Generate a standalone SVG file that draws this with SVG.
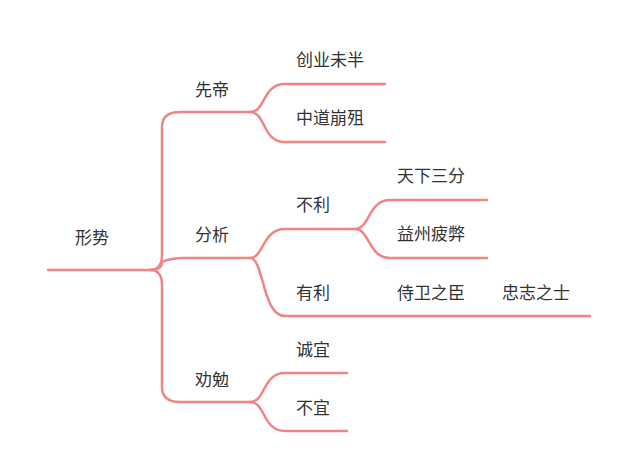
<svg xmlns="http://www.w3.org/2000/svg" width="640" height="468" viewBox="0 0 640 468">
<style>
.l{fill:none;stroke:#ef8585;stroke-width:2.5;stroke-linecap:round}
text{font-family:"Noto Sans CJK SC",sans-serif;fill:#333;font-size:17px}
</style>
<rect width="640" height="468" fill="#fff"/>
<g id="connectors">
<path class="l" d="M48 270 H150"/>
<path class="l" d="M150 270 Q162 270 162 255 V127 Q162 112 180 112 H250"/>
<path class="l" d="M150 270 Q162 270 162 262 Q170 258 185 258 H250"/>
<path class="l" d="M150 270 Q162 270 162 285 V387 Q162 402 180 402 H250"/>
<path class="l" d="M250 112 C266 112 262 84 285 84 H385"/>
<path class="l" d="M250 112 C266 112 262 142 285 142 H385"/>
<path class="l" d="M250 258 C264 258 262 229 285 229 H355"/>
<path class="l" d="M250 258 C264 258 262 316 285 316 H590"/>
<path class="l" d="M355 229 C370 229 368 200 390 200 H487"/>
<path class="l" d="M355 229 C370 229 368 258 390 258 H487"/>
<path class="l" d="M250 402 C266 402 262 373 285 373 H347"/>
<path class="l" d="M250 402 C266 402 262 431 285 431 H347"/>
</g>
<g id="root"><text x="75" y="244" font-size="21">形势</text></g>
<g id="n1"><text x="195" y="96">先帝</text></g>
<g id="n2"><text x="195" y="241">分析</text></g>
<g id="n3"><text x="195" y="386">劝勉</text></g>
<g id="n11"><text x="296" y="66">创业未半</text></g>
<g id="n12"><text x="296" y="124">中道崩殂</text></g>
<g id="n21"><text x="296" y="211">不利</text></g>
<g id="n22"><text x="296" y="299">有利</text></g>
<g id="n211"><text x="397" y="182">天下三分</text></g>
<g id="n212"><text x="397" y="240">益州疲弊</text></g>
<g id="n221"><text x="397" y="299">侍卫之臣</text></g>
<g id="n222"><text x="502" y="299">忠志之士</text></g>
<g id="n31"><text x="296" y="356">诚宜</text></g>
<g id="n32"><text x="296" y="414">不宜</text></g>
</svg>
